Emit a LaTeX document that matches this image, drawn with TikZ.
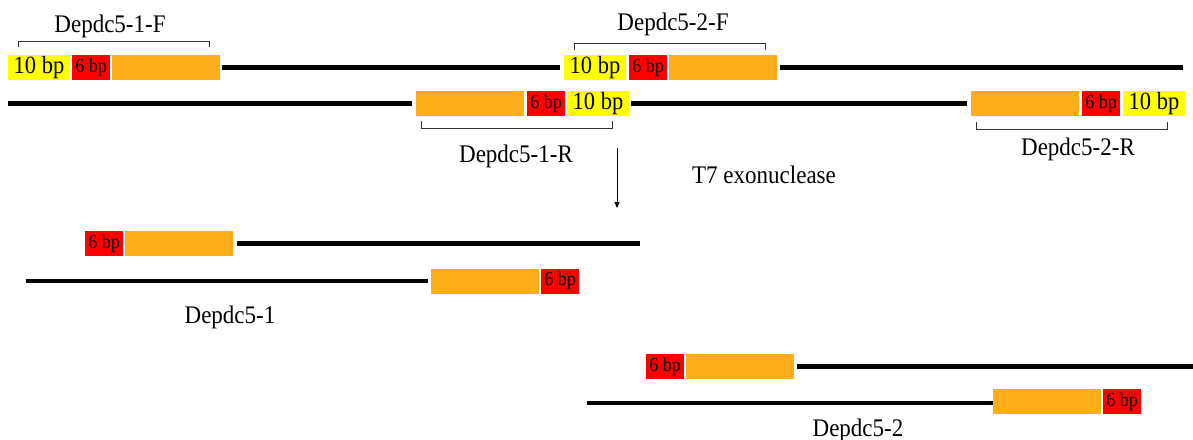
\documentclass[tikz,border=0pt]{standalone}
\usepackage{fontspec}
\setmainfont{Liberation Serif}
\usetikzlibrary{arrows.meta}
\definecolor{ybp}{RGB}{255,255,0}
\definecolor{rbp}{RGB}{255,0,0}
\definecolor{obp}{RGB}{255,173,27}
\newcommand{\vstretchtxt}[1]{\scalebox{1}[1.1]{#1}}
\tikzset{
  box/.style={inner sep=0pt, minimum height=25pt, draw=none},
  tenbox/.style={box, fill=ybp, minimum width=62pt, font=\fontsize{22.5}{24}\selectfont},
  sixbox/.style={box, fill=rbp, minimum width=38pt, font=\fontsize{18}{20}\selectfont},
  orbox/.style={box, fill=obp, minimum width=108pt},
  strand/.style={line width=4.5pt, black},
  brace/.style={line width=0.9pt, black!80},
  lbl/.style={inner sep=0pt, anchor=base, font=\fontsize{23}{26}\selectfont},
}
\begin{document}
\begin{tikzpicture}[x=1pt,y=-1pt]
\useasboundingbox (0,0) rectangle (1193,439);
% ---- row 1 (forward strand with primers) ----
\node[tenbox] (y1a) at (39,67.5) {\vstretchtxt{10 bp}};
\node[sixbox] (r1a) at (91,67.5) {\vstretchtxt{6 bp}};
\node[orbox]  (o1a) at (166,67.5) {};
\node[tenbox] (y2a) at (595,67.5) {\vstretchtxt{10 bp}};
\node[sixbox] (r2a) at (648,67.5) {\vstretchtxt{6 bp}};
\node[orbox]  (o2a) at (723,67.5) {};
\coordinate (e1a) at (1183,67.5);
\draw[strand] ([xshift=2pt]o1a.east) -- ([xshift=-4pt]y2a.west);
\draw[strand] ([xshift=3pt]o2a.east) -- (e1a);
% ---- row 2 (reverse strand with primers) ----
\coordinate (s1b) at (8,103.5);
\node[orbox]  (o1b) at (470,103.5) {};
\node[sixbox] (r1b) at (546,103.5) {\vstretchtxt{6 bp}};
\node[tenbox] (y1b) at (598,103.5) {\vstretchtxt{10 bp}};
\node[orbox]  (o2b) at (1025,103.5) {};
\node[sixbox] (r2b) at (1101,103.5) {\vstretchtxt{6 bp}};
\node[tenbox] (y2b) at (1154,103.5) {\vstretchtxt{10 bp}};
\draw[strand] (s1b) -- ([xshift=-4pt]o1b.west);
\draw[strand] ([xshift=2pt]y1b.east) -- ([xshift=-4pt]o2b.west);
% ---- brackets and primer labels ----
\draw[brace] (18,47) -- (18,41) -- (209,41) -- (209,47);
\node[lbl] (l1f) at (110,32) {\vstretchtxt{Depdc5-1-F}};
\draw[brace] (574,50) -- (574,43) -- (765,43) -- (765,50);
\node[lbl] (l2f) at (673,30) {\vstretchtxt{Depdc5-2-F}};
\draw[brace] (421,121) -- (421,128) -- (612,128) -- (612,121);
\node[lbl] (l1r) at (516,162) {\vstretchtxt{Depdc5-1-R}};
\draw[brace] (976,122) -- (976,129) -- (1167,129) -- (1167,122);
\node[lbl] (l2r) at (1078,155) {\vstretchtxt{Depdc5-2-R}};
% ---- arrow ----
\coordinate (as) at (617,148);
\coordinate (ae) at (617,208);
\draw[line width=0.9pt, -{Triangle[width=5pt,length=6pt]}] (as) -- (ae);
\node[lbl] (t7) at (764,183) {\vstretchtxt{T7 exonuclease}};
% ---- product 1 ----
\node[sixbox] (r3) at (104,243.5) {\vstretchtxt{6 bp}};
\node[orbox]  (o3) at (179,243.5) {};
\coordinate (e3) at (640,243.5);
\draw[strand] ([xshift=4pt]o3.east) -- (e3);
\coordinate (s4) at (26,281);
\node[orbox]  (o4) at (484.5,281) {};
\node[sixbox] (r4) at (560,281) {\vstretchtxt{6 bp}};
\draw[strand] (s4) -- ([xshift=-2pt]o4.west);
\node[lbl] (p1) at (230,323) {\vstretchtxt{Depdc5-1}};
% ---- product 2 ----
\node[sixbox] (r5) at (665,366.5) {\vstretchtxt{6 bp}};
\node[orbox]  (o5) at (739.5,366.5) {};
\coordinate (e5) at (1193,366.5);
\draw[strand] ([xshift=3pt]o5.east) -- (e5);
\coordinate (s6) at (587,403);
\node[orbox]  (o6) at (1047,401.5) {};
\node[sixbox] (r6) at (1122,401.5) {\vstretchtxt{6 bp}};
\draw[strand] (s6) -- (o6.west |- s6);
\node[lbl] (p2) at (858,436) {\vstretchtxt{Depdc5-2}};
\end{tikzpicture}
\end{document}
